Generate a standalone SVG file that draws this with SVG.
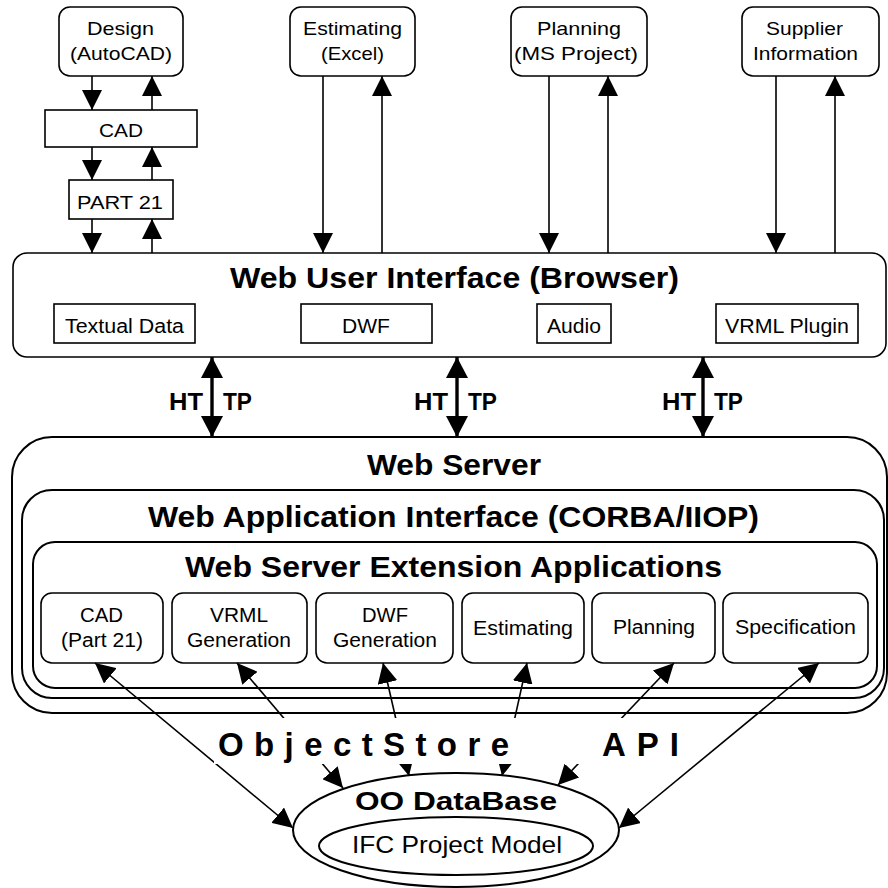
<svg xmlns="http://www.w3.org/2000/svg" width="888" height="888" viewBox="0 0 888 888">
<style>
.box{fill:#fff;stroke:#000;stroke-width:1.6}
.frame{fill:#fff;stroke:#000;stroke-width:2}
.t{font-family:"Liberation Sans",Arial,sans-serif;fill:#000}
.b{font-family:"Liberation Sans",Arial,sans-serif;font-weight:bold;fill:#000}
.ln{stroke:#000;stroke-width:1.6;fill:none}
.http{stroke:#000;stroke-width:3.4;fill:none}
</style>
<defs>
<marker id="ah" markerUnits="userSpaceOnUse" markerWidth="20" markerHeight="20" viewBox="0 0 20 20" refX="20" refY="10" orient="auto-start-reverse">
<path d="M0,0 L20,10 L0,20 z" fill="#000"/>
</marker>
<marker id="ahL" markerUnits="userSpaceOnUse" markerWidth="21" markerHeight="22" viewBox="0 0 21 22" refX="21" refY="11" orient="auto-start-reverse">
<path d="M0,0 L21,11 L0,22 z" fill="#000"/>
</marker>
</defs>
<rect width="888" height="888" fill="#fff"/>

<g id="design">
<rect class="box" x="59" y="7" width="124" height="69" rx="11"/>
<text class="t" font-size="19" x="87" y="35" textLength="67" lengthAdjust="spacingAndGlyphs">Design</text>
<text class="t" font-size="19" x="70" y="60" textLength="102" lengthAdjust="spacingAndGlyphs">(AutoCAD)</text>
</g>
<g id="estimating">
<rect class="box" x="290" y="7" width="125" height="69" rx="11"/>
<text class="t" font-size="19" x="303" y="35" textLength="99" lengthAdjust="spacingAndGlyphs">Estimating</text>
<text class="t" font-size="19" x="321" y="60" textLength="63" lengthAdjust="spacingAndGlyphs">(Excel)</text>
</g>
<g id="planning">
<rect class="box" x="511" y="7" width="136" height="69" rx="11"/>
<text class="t" font-size="19" x="537" y="35" textLength="84" lengthAdjust="spacingAndGlyphs">Planning</text>
<text class="t" font-size="19" x="514" y="60" textLength="124" lengthAdjust="spacingAndGlyphs">(MS Project)</text>
</g>
<g id="supplier">
<rect class="box" x="742" y="7" width="137" height="69" rx="11"/>
<text class="t" font-size="19" x="766" y="35" textLength="77" lengthAdjust="spacingAndGlyphs">Supplier</text>
<text class="t" font-size="19" x="753" y="60" textLength="105" lengthAdjust="spacingAndGlyphs">Information</text>
</g>
<g id="cad">
<rect class="box" x="45" y="110" width="152" height="37"/>
<text class="t" font-size="19" x="99" y="137" textLength="44" lengthAdjust="spacingAndGlyphs">CAD</text>
</g>
<g id="part21">
<rect class="box" x="69" y="180" width="104" height="39"/>
<text class="t" font-size="19" x="77" y="209" textLength="86" lengthAdjust="spacingAndGlyphs">PART 21</text>
</g>

<g id="web-ui">
<rect class="box" x="13" y="253" width="873" height="104" rx="14"/>
<text class="b" font-size="30" x="230" y="288" textLength="449" lengthAdjust="spacingAndGlyphs">Web User Interface (Browser)</text>
<g id="textual-data">
<rect class="box" x="54" y="304" width="141" height="39"/>
<text class="t" font-size="20" x="65" y="333" textLength="119" lengthAdjust="spacingAndGlyphs">Textual Data</text>
</g>
<g id="dwf">
<rect class="box" x="301" y="304" width="131" height="39"/>
<text class="t" font-size="20" x="342" y="333" textLength="48" lengthAdjust="spacingAndGlyphs">DWF</text>
</g>
<g id="audio">
<rect class="box" x="537" y="304" width="74" height="39"/>
<text class="t" font-size="20" x="547" y="333" textLength="54" lengthAdjust="spacingAndGlyphs">Audio</text>
</g>
<g id="vrml-plugin">
<rect class="box" x="716" y="304" width="142" height="39"/>
<text class="t" font-size="20" x="725" y="333" textLength="124" lengthAdjust="spacingAndGlyphs">VRML Plugin</text>
</g>
</g>

<g id="web-server">
<rect class="frame" x="12" y="437" width="875" height="276" rx="40"/>
<text class="b" font-size="29" x="367" y="475" textLength="174" lengthAdjust="spacingAndGlyphs">Web Server</text>
<g id="web-app-interface">
<rect class="frame" x="22" y="490" width="862" height="208" rx="30"/>
<text class="b" font-size="30" x="148" y="527" textLength="611" lengthAdjust="spacingAndGlyphs">Web Application Interface (CORBA/IIOP)</text>
<g id="extension-apps">
<rect class="frame" x="33" y="542" width="844" height="146" rx="22"/>
<text class="b" font-size="29" x="185" y="577" textLength="537" lengthAdjust="spacingAndGlyphs">Web Server Extension Applications</text>
<g id="app-cad">
<rect class="box" x="41" y="593" width="122" height="70" rx="11"/>
<text class="t" font-size="20" x="80" y="622" textLength="43" lengthAdjust="spacingAndGlyphs">CAD</text>
<text class="t" font-size="20" x="61" y="647" textLength="82" lengthAdjust="spacingAndGlyphs">(Part 21)</text>
</g>
<g id="app-vrml">
<rect class="box" x="172" y="593" width="135" height="70" rx="11"/>
<text class="t" font-size="20" x="210" y="622" textLength="58" lengthAdjust="spacingAndGlyphs">VRML</text>
<text class="t" font-size="20" x="187" y="647" textLength="104" lengthAdjust="spacingAndGlyphs">Generation</text>
</g>
<g id="app-dwf">
<rect class="box" x="316" y="593" width="137" height="70" rx="11"/>
<text class="t" font-size="20" x="362" y="622" textLength="46" lengthAdjust="spacingAndGlyphs">DWF</text>
<text class="t" font-size="20" x="333" y="647" textLength="104" lengthAdjust="spacingAndGlyphs">Generation</text>
</g>
<g id="app-estimating">
<rect class="box" x="462" y="593" width="122" height="70" rx="11"/>
<text class="t" font-size="20" x="473" y="635" textLength="100" lengthAdjust="spacingAndGlyphs">Estimating</text>
</g>
<g id="app-planning">
<rect class="box" x="592" y="593" width="123" height="70" rx="11"/>
<text class="t" font-size="20" x="613" y="634" textLength="82" lengthAdjust="spacingAndGlyphs">Planning</text>
</g>
<g id="app-specification">
<rect class="box" x="723" y="593" width="145" height="70" rx="11"/>
<text class="t" font-size="20" x="735" y="634" textLength="121" lengthAdjust="spacingAndGlyphs">Specification</text>
</g>
</g>
</g>
</g>

<g id="oo-database">
<ellipse class="frame" cx="456" cy="830" rx="163" ry="57"/>
<text class="b" font-size="26" x="355" y="810" textLength="202" lengthAdjust="spacingAndGlyphs">OO DataBase</text>
<g id="ifc-model">
<ellipse class="frame" cx="456" cy="846" rx="137" ry="29"/>
<text class="t" font-size="24" x="352" y="853" textLength="210" lengthAdjust="spacingAndGlyphs">IFC Project Model</text>
</g>
</g>

<g id="connectors">
<line class="ln" x1="92" y1="76" x2="92" y2="110" marker-end="url(#ah)"/>
<line class="ln" x1="152" y1="110" x2="152" y2="76" marker-end="url(#ah)"/>
<line class="ln" x1="92" y1="147" x2="92" y2="180" marker-end="url(#ah)"/>
<line class="ln" x1="152" y1="180" x2="152" y2="147" marker-end="url(#ah)"/>
<line class="ln" x1="92" y1="219" x2="92" y2="253" marker-end="url(#ah)"/>
<line class="ln" x1="152" y1="253" x2="152" y2="219" marker-end="url(#ah)"/>
<line class="ln" x1="323" y1="76" x2="323" y2="253" marker-end="url(#ah)"/>
<line class="ln" x1="382" y1="253" x2="382" y2="76" marker-end="url(#ah)"/>
<line class="ln" x1="549" y1="76" x2="549" y2="253" marker-end="url(#ah)"/>
<line class="ln" x1="608" y1="253" x2="608" y2="76" marker-end="url(#ah)"/>
<line class="ln" x1="776" y1="76" x2="776" y2="253" marker-end="url(#ah)"/>
<line class="ln" x1="835" y1="253" x2="835" y2="76" marker-end="url(#ah)"/>
<line class="http" x1="212" y1="357" x2="212" y2="437" marker-start="url(#ahL)" marker-end="url(#ahL)"/>
<line class="http" x1="457" y1="357" x2="457" y2="437" marker-start="url(#ahL)" marker-end="url(#ahL)"/>
<line class="http" x1="703" y1="357" x2="703" y2="437" marker-start="url(#ahL)" marker-end="url(#ahL)"/>
<line class="ln" x1="95" y1="663" x2="293" y2="828" marker-start="url(#ah)" marker-end="url(#ah)"/>
<line class="ln" x1="237" y1="663" x2="343" y2="788" marker-start="url(#ah)" marker-end="url(#ah)"/>
<line class="ln" x1="383" y1="663" x2="409" y2="776" marker-start="url(#ah)" marker-end="url(#ah)"/>
<line class="ln" x1="527" y1="663" x2="502" y2="776" marker-start="url(#ah)" marker-end="url(#ah)"/>
<line class="ln" x1="674" y1="663" x2="558" y2="785" marker-start="url(#ah)" marker-end="url(#ah)"/>
<line class="ln" x1="819" y1="663" x2="619" y2="828" marker-start="url(#ah)" marker-end="url(#ah)"/>
</g>

<g id="labels">
<text class="b" font-size="24" x="169" y="410" textLength="34" lengthAdjust="spacingAndGlyphs">HT</text>
<text class="b" font-size="24" x="223" y="410" textLength="29" lengthAdjust="spacingAndGlyphs">TP</text>
<text class="b" font-size="24" x="414" y="410" textLength="34" lengthAdjust="spacingAndGlyphs">HT</text>
<text class="b" font-size="24" x="468" y="410" textLength="29" lengthAdjust="spacingAndGlyphs">TP</text>
<text class="b" font-size="24" x="662" y="410" textLength="34" lengthAdjust="spacingAndGlyphs">HT</text>
<text class="b" font-size="24" x="714" y="410" textLength="29" lengthAdjust="spacingAndGlyphs">TP</text>
<rect x="214" y="718" width="470" height="46" fill="#fff"/>
<text class="b" font-size="33" x="218" y="756" textLength="291">ObjectStore</text>
<text class="b" font-size="33" x="602" y="756" textLength="77">API</text>
</g>
</svg>
